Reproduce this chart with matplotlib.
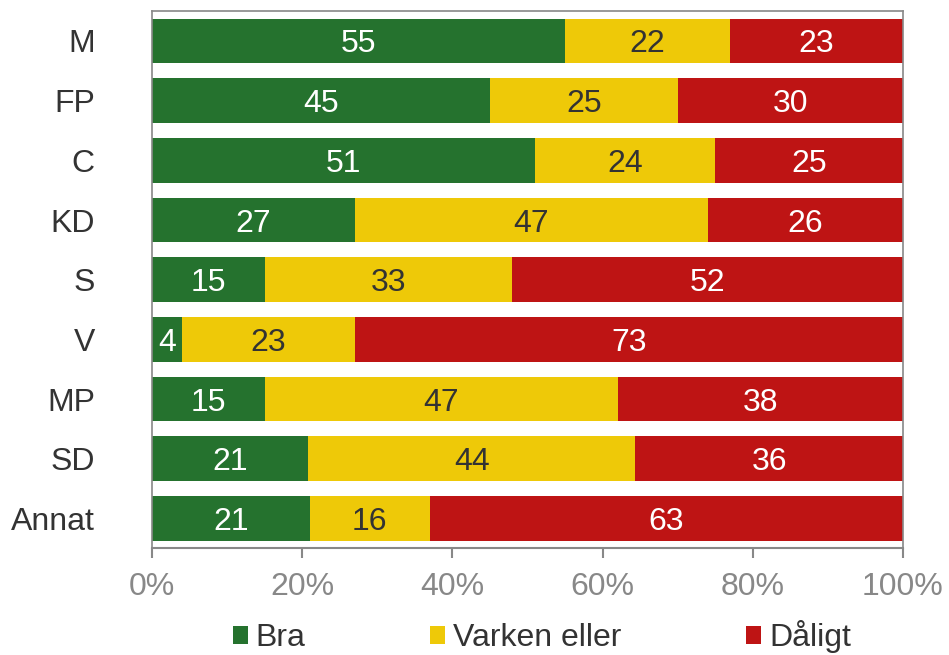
import numpy as np
import matplotlib
matplotlib.use("Agg")
import matplotlib.pyplot as plt

plt.rcParams['font.family'] = ['Liberation Sans', 'DejaVu Sans']

partier = ['M', 'FP', 'C', 'KD', 'S', 'V', 'MP', 'SD', 'Annat']
bra = [55, 45, 51, 27, 15, 4, 15, 21, 21]
varken = [22, 25, 24, 47, 33, 23, 47, 44, 16]
daligt = [23, 30, 25, 26, 52, 73, 38, 36, 63]

serier = ['Bra', 'Varken eller', 'Dåligt']
farger = ['#25722E', '#EEC908', '#BE1414']
textfarg = ['white', '#333333', 'white']

data = np.array([bra, varken, daligt], dtype=float)
andel = data / data.sum(axis=0) * 100

fig = plt.figure(figsize=(9.49, 6.55), dpi=100)
ax = fig.add_axes([0.160, 0.163, 0.7915, 0.820])

y = np.arange(len(partier))
vanster = np.zeros(len(partier))
for i in range(3):
    ax.barh(y, andel[i], left=vanster, height=0.75, color=farger[i],
            label=serier[i], edgecolor='none')
    for j in range(len(partier)):
        ax.text(vanster[j] + andel[i][j] / 2, y[j], '%d' % data[i][j],
                ha='center', va='center_baseline', fontsize=23, color=textfarg[i])
    vanster += andel[i]

ax.set_xlim(0, 100)
ax.set_ylim(len(partier) - 0.5, -0.5)
ax.set_yticks(y)
ax.set_yticklabels(partier, fontsize=23, color='#333333')
ax.set_xticks(np.arange(0, 101, 20))
ax.set_xticklabels(['%d%%' % v for v in range(0, 101, 20)], fontsize=23, color='#888888')
ax.tick_params(axis='y', length=0, pad=41)
ax.tick_params(axis='x', length=7, width=1.5, color='#888888', pad=10)
for s in ax.spines.values():
    s.set_color('#888888')
    s.set_linewidth(1.2)
ax.spines['bottom'].set_linewidth(1.5)

leg = fig.legend(loc='center', bbox_to_anchor=(0.571, 0.028), ncol=3, frameon=False,
                 fontsize=23, handlelength=0.47, handleheight=0.47, columnspacing=3.9,
                 handletextpad=0.25)
for t in leg.get_texts():
    t.set_color('#333333')

fig.savefig('out.png', dpi=100)
